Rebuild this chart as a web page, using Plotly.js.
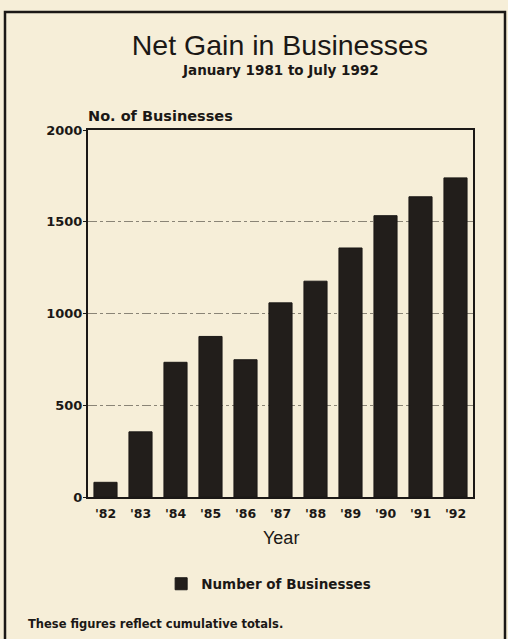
<!DOCTYPE html>
<html>
<head>
<meta charset="utf-8">
<script src="https://cdn.plot.ly/plotly-3.0.1.min.js"></script>
<style>
html,body{margin:0;padding:0;background:#f6eed8;}
#chart{width:508px;height:639px;}
</style>
</head>
<body>
<div id="chart"></div>
<script>
const years = ["'82","'83","'84","'85","'86","'87","'88","'89","'90","'91","'92"];
const businesses = [80, 355, 734, 875, 748, 1058, 1176, 1357, 1533, 1636, 1739];
const yTicks = [0, 500, 1000, 1500, 2000];
const seriesName = "Number of Businesses";

const ink = '#1b1816';
const sans = '"Liberation Sans", Arial, Helvetica, sans-serif';
const wide = '"DejaVu Sans", Verdana, sans-serif';

const trace = {
  type: 'bar',
  x: years,
  y: businesses,
  name: seriesName,
  marker: {color: '#221e1b', line: {color: ink, width: 1}},
  showlegend: true
};

const layout = {
  width: 508, height: 639,
  paper_bgcolor: '#f6eed8',
  plot_bgcolor: '#f6eed8',
  margin: {l: 88, r: 35, t: 130, b: 142},
  bargap: 0.34,
  title: {
    text: 'Net Gain in Businesses',
    font: {family: sans, size: 28.5, color: ink},
    x: 0.551, xanchor: 'center',
    y: 0.929, yanchor: 'middle'
  },
  xaxis: {
    type: 'category',
    range: [-0.5, 10.5],
    showline: true, linecolor: ink, linewidth: 2, mirror: true,
    ticks: '', showgrid: false,
    ticklabelstandoff: 4,
    tickfont: {family: wide, size: 12.5, color: ink, weight: 'bold'}
  },
  yaxis: {
    range: [0, 2000],
    tickvals: yTicks,
    ticktext: yTicks.map(String),
    showline: true, linecolor: ink, linewidth: 2, mirror: true,
    ticks: 'outside', ticklen: 3, tickcolor: ink,
    ticklabelstandoff: -2,
    showgrid: true, gridcolor: 'rgba(30,25,20,0.5)', griddash: 'dashdot', gridwidth: 1,
    zeroline: false,
    tickfont: {family: wide, size: 13, color: ink, weight: 'bold'}
  },
  legend: {
    orientation: 'h',
    x: 0.19, xanchor: 'left',
    y: -0.237, yanchor: 'middle',
    bgcolor: 'rgba(0,0,0,0)',
    font: {family: wide, size: 13.5, color: ink, weight: 'bold'}
  },
  annotations: [
    {text: 'January 1981 to July 1992', xref: 'paper', yref: 'paper',
     x: 0.5, xanchor: 'center', y: (497-70)/367, yanchor: 'middle', showarrow: false,
     font: {family: wide, size: 13.5, color: ink, weight: 'bold'}},
    {text: 'No. of Businesses', xref: 'paper', yref: 'paper',
     x: -0.005, xanchor: 'left', y: (497-116)/367, yanchor: 'middle', showarrow: false,
     font: {family: wide, size: 14.5, color: ink, weight: 'bold'}},
    {text: 'Year', xref: 'paper', yref: 'paper',
     x: 0.5, xanchor: 'center', y: (497-538)/367, yanchor: 'middle', showarrow: false,
     font: {family: sans, size: 18, color: ink}},
    {text: 'These figures reflect cumulative totals.', xref: 'paper', yref: 'paper',
     x: (26-88)/385, xanchor: 'left', y: (497-624)/367, yanchor: 'middle', showarrow: false,
     font: {family: wide, size: 11.5, color: ink, weight: 'bold'}}
  ],
  shapes: [
    {type: 'rect', xref: 'paper', yref: 'paper',
     x0: (5-88)/385, x1: (505-88)/385, y0: (497-660)/367, y1: (497-12)/367,
     line: {color: ink, width: 2.5}, fillcolor: 'rgba(0,0,0,0)', layer: 'below'}
  ]
};

Plotly.newPlot('chart', [trace], layout, {displayModeBar: false, staticPlot: true});
</script>
</body>
</html>
